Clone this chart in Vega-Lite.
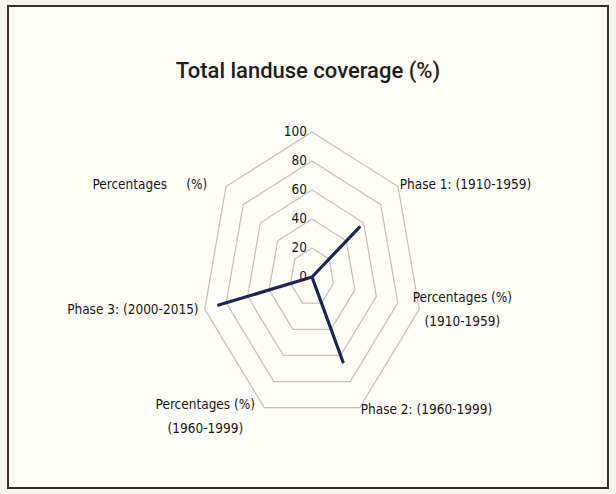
{
  "$schema": "https://vega.github.io/schema/vega-lite/v6.json",
  "width": 600,
  "height": 482,
  "autosize": {"type": "none"},
  "padding": {"left": 8, "top": 6, "right": 8, "bottom": 6},
  "background": "#f6f4ef",
  "view": {"fill": "#fffdf8", "stroke": "#3b2b2b", "strokeWidth": 2},
  "title": {
    "text": "Total landuse coverage (%)",
    "font": "Roboto",
    "fontSize": 22,
    "fontWeight": 500,
    "color": "#1e1e1e",
    "anchor": "middle",
    "baseline": "middle",
    "offset": 0,
    "dy": 87
  },
  "datasets": {
    "series": [
      {"idx": 0, "category": "", "value": 0},
      {"idx": 1, "category": "Phase 1: (1910-1959)", "value": 55},
      {"idx": 2, "category": "Percentages (%)\n(1910-1959)", "value": 0},
      {"idx": 3, "category": "Phase 2: (1960-1999)", "value": 65},
      {"idx": 4, "category": "Percentages (%)\n(1960-1999)", "value": 0},
      {"idx": 5, "category": "Phase 3: (2000-2015)", "value": 87},
      {"idx": 6, "category": "Percentages\u00a0\u00a0\u00a0\u00a0 (%)", "value": 0}
    ],
    "ticks": [
      {"tick": 0}, {"tick": 20}, {"tick": 40}, {"tick": 60}, {"tick": 80}, {"tick": 100}
    ]
  },
  "encoding": {
    "x": {"field": "px", "type": "quantitative", "axis": null,
          "scale": {"domain": [-276.36, 269.09], "nice": false, "zero": false}},
    "y": {"field": "py", "type": "quantitative", "axis": null,
          "scale": {"domain": [-145.5, 186.9], "nice": false, "zero": false}}
  },
  "layer": [
    {
      "data": {"name": "series"},
      "transform": [
        {"calculate": "[20, 40, 60, 80, 100]", "as": "level"},
        {"flatten": ["level"]},
        {"calculate": "datum.level * sin(datum.idx * 2 * PI / 7)", "as": "px"},
        {"calculate": "datum.level * cos(datum.idx * 2 * PI / 7)", "as": "py"}
      ],
      "mark": {"type": "line", "interpolate": "linear-closed", "color": "#c2c0bb", "strokeWidth": 1.2},
      "encoding": {
        "detail": {"field": "level", "type": "quantitative"},
        "order": {"field": "idx", "type": "quantitative"}
      }
    },
    {
      "data": {"name": "series"},
      "transform": [
        {"calculate": "datum.value * sin(datum.idx * 2 * PI / 7)", "as": "px"},
        {"calculate": "datum.value * cos(datum.idx * 2 * PI / 7)", "as": "py"}
      ],
      "mark": {"type": "line", "interpolate": "linear-closed", "color": "#1c2650", "strokeWidth": 3.2, "strokeJoin": "round"},
      "encoding": {
        "order": {"field": "idx", "type": "quantitative"}
      }
    },
    {
      "data": {"name": "series"},
      "transform": [
        {"filter": "datum.idx == 1 || datum.idx == 3"},
        {"calculate": "102 * sin(datum.idx * 2 * PI / 7)", "as": "px"},
        {"calculate": "102 * cos(datum.idx * 2 * PI / 7)", "as": "py"}
      ],
      "mark": {"type": "text", "align": "left", "baseline": "middle",
               "font": "DejaVu Sans Condensed, sans-serif", "fontSize": 13.5, "color": "#161616"},
      "encoding": {"text": {"field": "category"}}
    },
    {
      "data": {"name": "series"},
      "transform": [
        {"filter": "datum.idx == 2"},
        {"calculate": "102 * sin(datum.idx * 2 * PI / 7)", "as": "px"},
        {"calculate": "102 * cos(datum.idx * 2 * PI / 7)", "as": "py"}
      ],
      "mark": {"type": "text", "align": "center", "baseline": "middle", "lineBreak": "\n", "lineHeight": 24,
               "dx": 41, "dy": -12,
               "font": "DejaVu Sans Condensed, sans-serif", "fontSize": 13.5, "color": "#161616"},
      "encoding": {"text": {"field": "category"}}
    },
    {
      "data": {"name": "series"},
      "transform": [
        {"filter": "datum.idx == 4"},
        {"calculate": "102 * sin(datum.idx * 2 * PI / 7)", "as": "px"},
        {"calculate": "102 * cos(datum.idx * 2 * PI / 7)", "as": "py"}
      ],
      "mark": {"type": "text", "align": "center", "baseline": "middle", "lineBreak": "\n", "lineHeight": 24,
               "dx": -58, "dy": -5,
               "font": "DejaVu Sans Condensed, sans-serif", "fontSize": 13.5, "color": "#161616"},
      "encoding": {"text": {"field": "category"}}
    },
    {
      "data": {"name": "series"},
      "transform": [
        {"filter": "datum.idx == 5"},
        {"calculate": "102 * sin(datum.idx * 2 * PI / 7)", "as": "px"},
        {"calculate": "102 * cos(datum.idx * 2 * PI / 7)", "as": "py"}
      ],
      "mark": {"type": "text", "align": "right", "baseline": "middle", "dx": -4,
               "font": "DejaVu Sans Condensed, sans-serif", "fontSize": 13.5, "color": "#161616"},
      "encoding": {"text": {"field": "category"}}
    },
    {
      "data": {"name": "series"},
      "transform": [
        {"filter": "datum.idx == 6"},
        {"calculate": "102 * sin(datum.idx * 2 * PI / 7)", "as": "px"},
        {"calculate": "102 * cos(datum.idx * 2 * PI / 7)", "as": "py"}
      ],
      "mark": {"type": "text", "align": "right", "baseline": "middle", "dx": -17,
               "font": "DejaVu Sans Condensed, sans-serif", "fontSize": 13.5, "color": "#161616"},
      "encoding": {"text": {"field": "category"}}
    },
    {
      "data": {"name": "ticks"},
      "transform": [
        {"calculate": "0", "as": "px"},
        {"calculate": "datum.tick", "as": "py"}
      ],
      "mark": {"type": "text", "align": "right", "baseline": "middle", "dx": -5,
               "font": "DejaVu Sans Condensed, sans-serif", "fontSize": 13.5, "color": "#161616"},
      "encoding": {"text": {"field": "tick", "type": "quantitative"}}
    }
  ]
}
